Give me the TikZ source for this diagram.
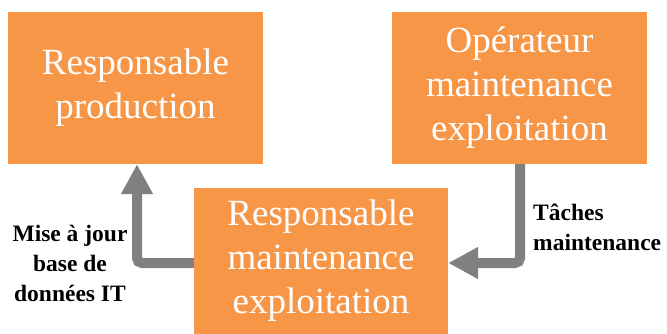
\documentclass[tikz,border=0pt]{standalone}
\usepackage{fontspec}
\setmainfont{Liberation Serif}
\usetikzlibrary{arrows.meta}
\definecolor{boxorange}{HTML}{F79646}
\definecolor{arrgray}{HTML}{808080}
\tikzset{
  orangebox/.style={fill=boxorange, draw=none, minimum width=#1, inner sep=0pt, text=white,
    font=\fontsize{37}{44}\selectfont, align=center},
  flowarrow/.style={draw=arrgray, line width=10pt, rounded corners=5pt,
    -{Triangle[width=30pt,length=30pt]}, arrgray},
  lbl/.style={font=\bfseries\fontsize{23.5}{30}\selectfont, inner sep=0pt, text=black}
}
\begin{document}
\begin{tikzpicture}[x=1pt,y=-1pt]
\useasboundingbox[fill=white] (0,0) rectangle (667,334);
\node[orangebox=255pt, minimum height=152pt] (prod) at (135.5,88) {Responsable\\production};
\node[orangebox=255pt, minimum height=152pt] (oper) at (519.5,88) {Opérateur\\maintenance\\exploitation};
\node[orangebox=254pt, minimum height=146pt] (resp) at (321,261) {Responsable\\maintenance\\exploitation};
\coordinate (c1) at (137,263);
\coordinate (c2) at (520,263);
\draw[flowarrow] (resp.west |- c1) -- (c1) -- (c1 |- prod.south);
\draw[flowarrow] (c2 |- oper.south) -- (c2) -- (c2 -| resp.east);
\node[lbl, align=center] (l1) at (70,263) {Mise à jour\\base de\\données IT};
\node[lbl, align=left, anchor=west] (l2) at (533,227) {Tâches\\maintenance};
\end{tikzpicture}
\end{document}
